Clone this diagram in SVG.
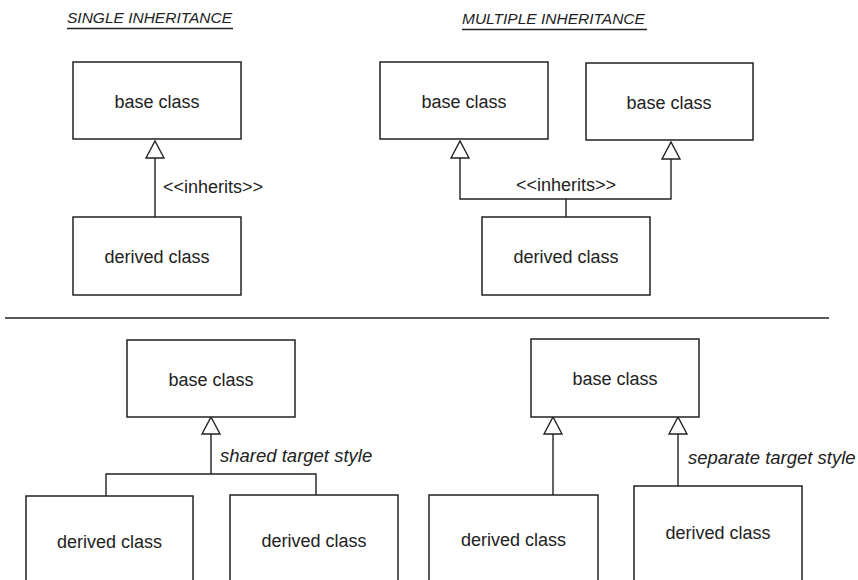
<svg xmlns="http://www.w3.org/2000/svg" width="858" height="580" viewBox="0 0 858 580">
<defs>
<style>
.box{fill:#fff;stroke:#222;stroke-width:1.5}
.ln{fill:none;stroke:#222;stroke-width:1.4}
.lbl{font-family:"Liberation Sans",Arial,sans-serif;font-size:18px;fill:#222;text-anchor:middle}
.it{font-family:"Liberation Sans",Arial,sans-serif;font-size:18.5px;fill:#222;font-style:italic}
.ttl{font-family:"Liberation Sans",Arial,sans-serif;font-size:15.5px;fill:#222;font-style:italic}
.arr{marker-end:url(#tri)}
</style>
<marker id="tri" markerUnits="userSpaceOnUse" markerWidth="20" markerHeight="20" viewBox="0 0 20 20" refX="18" refY="10" orient="auto">
<path d="M1,1 L18,10 L1,19 Z" fill="#fff" stroke="#222" stroke-width="1.4"/>
</marker>
</defs>
<rect width="858" height="580" fill="#fff"/>

<g id="titles">
<text class="ttl" x="67" y="23">SINGLE INHERITANCE</text>
<line class="ln" x1="67" y1="28.5" x2="233" y2="28.5" stroke-width="1.2"/>
<text class="ttl" x="462" y="24">MULTIPLE INHERITANCE</text>
<line class="ln" x1="462" y1="29.5" x2="647" y2="29.5" stroke-width="1.2"/>
</g>

<g id="separator">
<line class="ln" x1="5" y1="318" x2="829" y2="318" stroke-width="1.3"/>
</g>

<g id="connectors">
<path class="ln arr" d="M155,217 V141"/>
<text class="lbl" x="163" y="193" style="text-anchor:start">&lt;&lt;inherits&gt;&gt;</text>
<path class="ln arr" d="M566,217 V199 H460 V141"/>
<path class="ln arr" d="M566,199 H671 V142"/>
<text class="lbl" x="566" y="191">&lt;&lt;inherits&gt;&gt;</text>
<path class="ln arr" d="M106,496 V474 H211 V417"/>
<path class="ln" d="M316,495 V474 H211"/>
<text class="it" x="220" y="462">shared target style</text>
<path class="ln arr" d="M553,495 V417"/>
<path class="ln arr" d="M678,486 V417"/>
<text class="it" x="688" y="464">separate target style</text>
</g>

<g id="single-base">
<rect class="box" x="73" y="62" width="168" height="77"/>
<text class="lbl" x="157" y="108">base class</text>
</g>
<g id="single-derived">
<rect class="box" x="73" y="217" width="168" height="78"/>
<text class="lbl" x="157" y="263">derived class</text>
</g>

<g id="multi-base-left">
<rect class="box" x="380" y="62" width="168" height="77"/>
<text class="lbl" x="464" y="108">base class</text>
</g>
<g id="multi-base-right">
<rect class="box" x="586" y="63" width="167" height="77"/>
<text class="lbl" x="669" y="109">base class</text>
</g>
<g id="multi-derived">
<rect class="box" x="482" y="217" width="168" height="78"/>
<text class="lbl" x="566" y="263">derived class</text>
</g>

<g id="shared-base">
<rect class="box" x="127" y="340" width="168" height="77"/>
<text class="lbl" x="211" y="386">base class</text>
</g>
<g id="shared-derived-left">
<rect class="box" x="26" y="496" width="167" height="110"/>
<text class="lbl" x="109.5" y="548">derived class</text>
</g>
<g id="shared-derived-right">
<rect class="box" x="230" y="495" width="168" height="110"/>
<text class="lbl" x="314" y="547">derived class</text>
</g>

<g id="separate-base">
<rect class="box" x="531" y="339" width="168" height="78"/>
<text class="lbl" x="615" y="385">base class</text>
</g>
<g id="separate-derived-left">
<rect class="box" x="429" y="495" width="169" height="110"/>
<text class="lbl" x="513.5" y="546">derived class</text>
</g>
<g id="separate-derived-right">
<rect class="box" x="634" y="486" width="168" height="120"/>
<text class="lbl" x="718" y="539">derived class</text>
</g>
</svg>
